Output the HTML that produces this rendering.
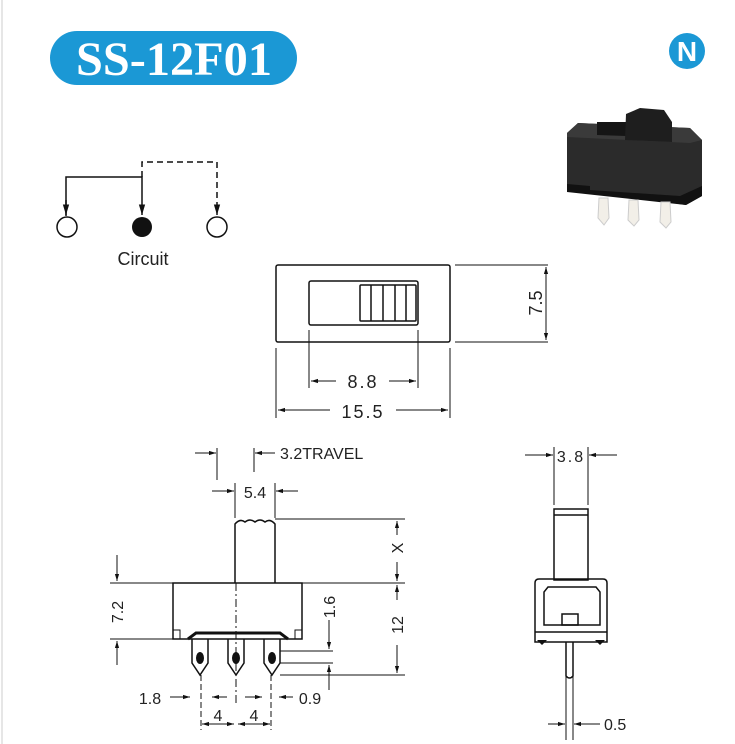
<!DOCTYPE html>
<html><head><meta charset="utf-8"><style>
html,body{margin:0;padding:0;background:#fff;}
svg{display:block;font-family:"Liberation Sans",sans-serif;}
</style></head><body>
<svg width="735" height="744" viewBox="0 0 735 744" xmlns="http://www.w3.org/2000/svg">
<defs>
<marker id="a" viewBox="0 0 10 10" refX="10" refY="5" markerWidth="7" markerHeight="7" orient="auto-start-reverse"><path d="M0,2 L10,5 L0,8 z" fill="#111"/></marker>
</defs>
<line x1="2" y1="0" x2="2" y2="744" stroke="#e6e6e6" stroke-width="2"/>
<!-- title -->
<rect x="50" y="31" width="247" height="54" rx="27" fill="#1b98d5"/>
<text x="174" y="75" text-anchor="middle" font-family="Liberation Serif,serif" font-weight="bold" font-size="48" fill="#fff" textLength="196" lengthAdjust="spacingAndGlyphs">SS-12F01</text>
<!-- logo -->
<circle cx="687" cy="51" r="18" fill="#1b98d5"/>
<text x="687" y="61" text-anchor="middle" font-family="Liberation Sans,sans-serif" font-weight="bold" font-size="28" fill="#fff">N</text>
<!-- circuit -->
<g stroke="#111" stroke-width="1.5" fill="none">
<polyline points="66,216 66,177 142,177 142,215" marker-end="url(#a)"/>
<line x1="66" y1="200" x2="66" y2="215" marker-end="url(#a)"/>
<polyline points="142,177 142,162 217,162 217,215" stroke-dasharray="6,4" marker-end="url(#a)"/>
<circle cx="67" cy="227" r="10"/>
<circle cx="217" cy="227" r="10"/>
</g>
<circle cx="142" cy="227" r="10" fill="#111"/>
<text x="143" y="265" text-anchor="middle" font-size="18" fill="#222">Circuit</text>
<!-- photo -->
<g>
<path d="M567,133 L578,123 L690,128 L702,140 L702,196 L686,205 L567,188 Z" fill="#2b2b2b"/>
<path d="M567,133 L578,123 L690,128 L702,140 L690,143 L567,137 Z" fill="#3a3a3a"/>
<path d="M597,122 L626,122 L626,136 L597,135 Z" fill="#151515"/>
<path d="M625,140 L626,114 L640,108 L664,110 L672,122 L672,142 Z" fill="#1e1e1e"/>
<path d="M567,184 L590,186 L590,190 L680,196 L702,186 L702,196 L686,205 L567,192 Z" fill="#111"/>
<path d="M599,198 L608,198 L609,218 L604,225 L598,218 Z" fill="#f2efe8" stroke="#ccc"/>
<path d="M629,200 L638,200 L639,220 L634,226 L628,220 Z" fill="#f2efe8" stroke="#ccc"/>
<path d="M661,202 L670,202 L671,222 L666,228 L660,222 Z" fill="#f2efe8" stroke="#ccc"/>
</g>
<!-- top view -->
<g stroke="#111" stroke-width="1.5" fill="none">
<rect x="276" y="265" width="174" height="77" rx="2"/>
<rect x="309" y="281" width="109" height="44" rx="2"/>
<rect x="360" y="285" width="56" height="36" rx="1"/>
<line x1="371" y1="285" x2="371" y2="321"/><line x1="383" y1="285" x2="383" y2="321"/>
<line x1="395" y1="285" x2="395" y2="321"/><line x1="406" y1="285" x2="406" y2="321"/>
<line x1="455" y1="265" x2="548" y2="265" stroke-width="1"/><line x1="455" y1="342" x2="548" y2="342" stroke-width="1"/>
<line x1="546" y1="267" x2="546" y2="340" stroke-width="1" marker-start="url(#a)" marker-end="url(#a)"/>
<line x1="309" y1="330" x2="309" y2="388" stroke-width="1"/><line x1="418" y1="330" x2="418" y2="388" stroke-width="1"/>
<line x1="311" y1="381" x2="336" y2="381" stroke-width="1" marker-start="url(#a)"/>
<line x1="389" y1="381" x2="416" y2="381" stroke-width="1" marker-end="url(#a)"/>
<line x1="276" y1="348" x2="276" y2="418" stroke-width="1"/><line x1="450" y1="348" x2="450" y2="418" stroke-width="1"/>
<line x1="278" y1="410" x2="330" y2="410" stroke-width="1" marker-start="url(#a)"/>
<line x1="396" y1="410" x2="448" y2="410" stroke-width="1" marker-end="url(#a)"/>
</g>
<text x="363" y="388" text-anchor="middle" font-size="18" fill="#222" letter-spacing="2">8.8</text>
<text x="363" y="418" text-anchor="middle" font-size="18" fill="#222" letter-spacing="2">15.5</text>
<text transform="translate(542,303) rotate(-90)" text-anchor="middle" font-size="18" fill="#222">7.5</text>
<!-- side view -->
<g stroke="#111" stroke-width="1.5" fill="none">
<rect x="173" y="583" width="129" height="56"/>
<path d="M235,583 L235,524 Q240,518 245,522 Q250,518 255,522 Q260,518 265,522 Q270,518 275,524 L275,583"/>
<path d="M173,630 L180,630 L180,639 M302,630 L295,630 L295,639" stroke-width="1"/>
<path d="M188,639 L196,633 L280,633 L288,639" stroke-width="3"/>
<path d="M192,639 L192,663 L200,675 L208,663 L208,639"/>
<path d="M228,639 L228,663 L236,675 L244,663 L244,639"/>
<path d="M264,639 L264,663 L272,675 L280,663 L280,639"/>
<line x1="236" y1="583" x2="236" y2="705" stroke-dasharray="8,3,2,3" stroke-width="1"/>
<line x1="201" y1="675" x2="201" y2="730" stroke-dasharray="6,3" stroke-width="1"/>
<line x1="271" y1="675" x2="271" y2="730" stroke-dasharray="6,3" stroke-width="1"/>
<g stroke-width="1">
<line x1="217" y1="448" x2="217" y2="480"/><line x1="254" y1="448" x2="254" y2="472"/>
<line x1="195" y1="453" x2="216" y2="453" marker-end="url(#a)"/>
<line x1="275" y1="453" x2="255" y2="453" marker-end="url(#a)"/>
<line x1="235" y1="483" x2="235" y2="518"/><line x1="275" y1="483" x2="275" y2="518"/>
<line x1="212" y1="491" x2="234" y2="491" marker-end="url(#a)"/>
<line x1="298" y1="491" x2="276" y2="491" marker-end="url(#a)"/>
<line x1="275" y1="519" x2="405" y2="519"/>
<line x1="302" y1="583" x2="405" y2="583"/><line x1="110" y1="583" x2="173" y2="583"/>
<line x1="110" y1="639" x2="173" y2="639"/>
<line x1="280" y1="651" x2="333" y2="651"/><line x1="280" y1="663" x2="333" y2="663"/>
<line x1="280" y1="675" x2="405" y2="675"/>
<line x1="397" y1="535" x2="397" y2="521" marker-end="url(#a)"/>
<line x1="397" y1="562" x2="397" y2="581" marker-end="url(#a)"/>
<line x1="397" y1="600" x2="397" y2="585" marker-end="url(#a)"/>
<line x1="397" y1="645" x2="397" y2="673" marker-end="url(#a)"/>
<line x1="329" y1="620" x2="329" y2="649" marker-end="url(#a)"/>
<line x1="329" y1="690" x2="329" y2="665" marker-end="url(#a)"/>
<line x1="117" y1="555" x2="117" y2="581" marker-end="url(#a)"/>
<line x1="117" y1="665" x2="117" y2="641" marker-end="url(#a)"/>
<line x1="170" y1="697" x2="190" y2="697" marker-end="url(#a)"/>
<line x1="212" y1="697" x2="227" y2="697" marker-start="url(#a)"/>
<line x1="245" y1="697" x2="262" y2="697" marker-end="url(#a)"/>
<line x1="293" y1="697" x2="279" y2="697" marker-end="url(#a)"/>
<line x1="202" y1="724" x2="234" y2="724" marker-start="url(#a)" marker-end="url(#a)"/>
<line x1="238" y1="724" x2="270" y2="724" marker-start="url(#a)" marker-end="url(#a)"/>
</g>
</g>
<g fill="#111"><ellipse cx="200" cy="658" rx="4" ry="6"/><ellipse cx="236" cy="658" rx="4" ry="6"/><ellipse cx="272" cy="658" rx="4" ry="6"/></g>
<text x="280" y="459" font-size="16" fill="#222">3.2TRAVEL</text>
<text x="255" y="498" text-anchor="middle" font-size="16" fill="#222">5.4</text>
<text transform="translate(403,548) rotate(-90)" text-anchor="middle" font-size="16" fill="#222">X</text>
<text transform="translate(403,625) rotate(-90)" text-anchor="middle" font-size="16" fill="#222">12</text>
<text transform="translate(335,607) rotate(-90)" text-anchor="middle" font-size="16" fill="#222">1.6</text>
<text transform="translate(123,612) rotate(-90)" text-anchor="middle" font-size="16" fill="#222">7.2</text>
<text x="150" y="704" text-anchor="middle" font-size="16" fill="#222">1.8</text>
<text x="310" y="704" text-anchor="middle" font-size="16" fill="#222">0.9</text>
<text x="218" y="721" text-anchor="middle" font-size="16" fill="#222">4</text>
<text x="254" y="721" text-anchor="middle" font-size="16" fill="#222">4</text>
<!-- end view -->
<g stroke="#111" stroke-width="1.5" fill="none">
<line x1="554" y1="447" x2="554" y2="505" stroke-width="1"/><line x1="588" y1="447" x2="588" y2="505" stroke-width="1"/>
<line x1="525" y1="455" x2="553" y2="455" stroke-width="1" marker-end="url(#a)"/>
<line x1="617" y1="455" x2="589" y2="455" stroke-width="1" marker-end="url(#a)"/>
<rect x="554" y="509" width="34" height="71"/>
<line x1="554" y1="515" x2="588" y2="515"/>
<path d="M535,642 L535,583 Q535,579 539,579 L603,579 Q607,579 607,583 L607,642 Z"/>
<line x1="535" y1="632" x2="607" y2="632"/>
<path d="M548,587 L596,587 L600,592 L600,625 L544,625 L544,592 Z"/>
<rect x="562" y="614" width="16" height="11"/>
<path d="M566,642 L566,676 Q569.5,680 573,676 L573,642"/>
<line x1="566" y1="676" x2="566" y2="740" stroke-width="1"/><line x1="573" y1="676" x2="573" y2="740" stroke-width="1"/>
<line x1="548" y1="724" x2="565" y2="724" stroke-width="1" marker-end="url(#a)"/>
<line x1="600" y1="724" x2="574" y2="724" stroke-width="1" marker-end="url(#a)"/>
</g>
<path d="M537,640 L547,640 L542,645 Z M595,640 L605,640 L600,645 Z" fill="#111"/>
<text x="571" y="462" text-anchor="middle" font-size="16" fill="#222" letter-spacing="2">3.8</text>
<text x="604" y="730" font-size="16" fill="#222">0.5</text>
</svg>
</body></html>
